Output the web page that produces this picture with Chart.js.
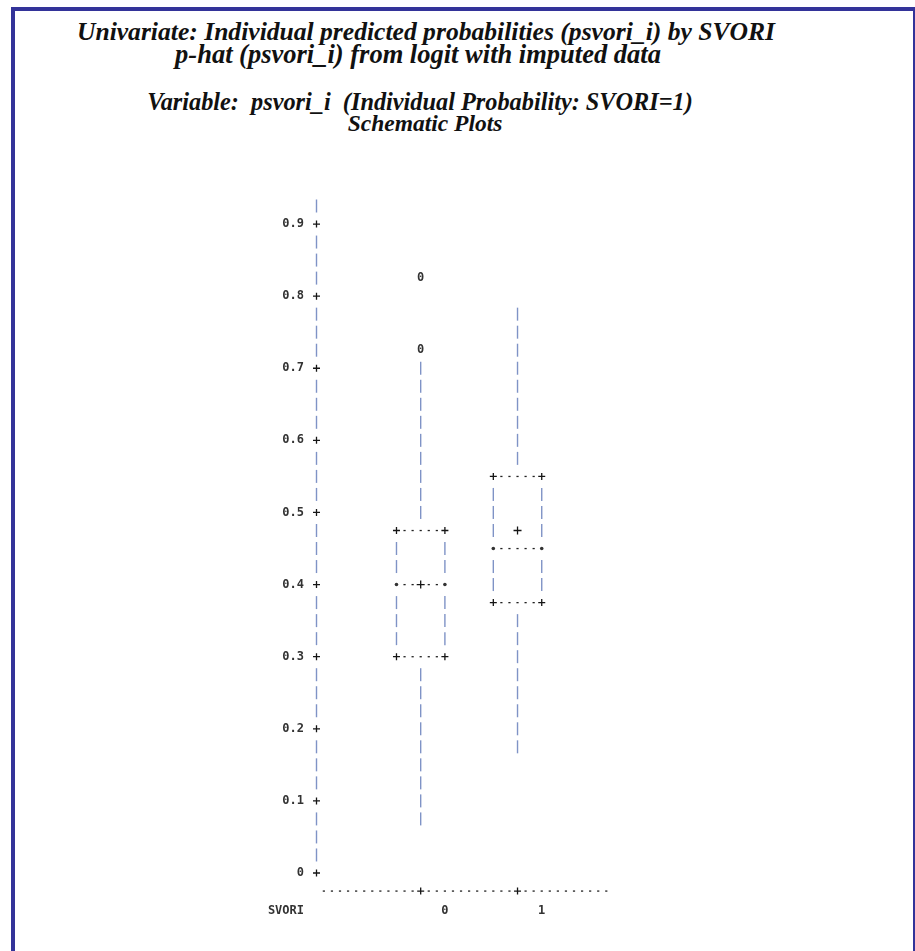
<!DOCTYPE html>
<html lang="en">
<head>
<meta charset="UTF-8">
<title>Schematic Plots</title>
<script src="https://cdn.jsdelivr.net/npm/chart.js"></script>
<style>
  body { margin: 0; width: 915px; height: 951px; overflow: hidden; position: relative; background: #fff; }
  .frame { position: absolute; left: 11px; top: 7px; width: 898px; height: 1000px; border: 4px solid #333399; }
  .t { position: absolute; left: 0; width: 846px; text-align: center; white-space: pre; line-height: 1;
       font-family: "Liberation Serif", serif; font-weight: bold; font-style: italic; color: #111; }
  #chart { position: absolute; left: 0; top: 0; }
</style>
</head>
<body>
<div class="frame"></div>
<div class="t" style="top:19px; left:3px; font-size:25.6px">Univariate: Individual predicted probabilities (psvori_i) by SVORI</div>
<div class="t" style="top:41px; left:-5px; font-size:26.5px">p-hat (psvori_i) from logit with imputed data</div>
<div class="t" style="top:90px; left:-3px; font-size:24.3px">Variable:  psvori_i  (Individual Probability: SVORI=1)</div>
<div class="t" style="top:111.5px; left:2px; font-size:23.5px">Schematic Plots</div>
<canvas id="chart" width="915" height="951"></canvas>

<script>
// data (line printer rows are 0.025 apart)
const categories = ['0', '1'];
const catPos = [0, 1];
const q1 = [0.300, 0.375];
const median = [0.400, 0.450];
const q3 = [0.475, 0.550];
const mean = [0.400, 0.475];
const whiskLo = [0.075, 0.175];
const whiskHi = [0.700, 0.775];
const outlierCat = [0, 0];
const outlierVal = [0.725, 0.825];
const yTicks = [0, 0.1, 0.2, 0.3, 0.4, 0.5, 0.6, 0.7, 0.8, 0.9];
const yTickLabels = ['0', '0.1', '0.2', '0.3', '0.4', '0.5', '0.6', '0.7', '0.8', '0.9'];
const xTitle = 'SVORI';

const rowStep = 0.025;
const boxHalf = 0.25;
const monoFont = 'bold 12px "DejaVu Sans Mono", monospace';
const pipeColor = '#7f93c6';
const inkColor = '#151515';

function plus(ctx, x, y) {
    ctx.strokeStyle = inkColor;
    ctx.lineWidth = 1.3;
    ctx.beginPath();
    ctx.moveTo(x - 3.5, y); ctx.lineTo(x + 3.5, y);
    ctx.moveTo(x, y - 3.5); ctx.lineTo(x, y + 3.5);
    ctx.stroke();
}
function pipe(ctx, x, y) {
    ctx.strokeStyle = pipeColor;
    ctx.lineWidth = 1.4;
    ctx.beginPath();
    ctx.moveTo(x, y - 6.5); ctx.lineTo(x, y + 6.5);
    ctx.stroke();
}
function star(ctx, x, y) {
    ctx.fillStyle = '#333';
    ctx.beginPath();
    ctx.arc(x, y, 1.8, 0, Math.PI * 2);
    ctx.fill();
}
function dashes(ctx, x0, x1, y, n, skip) {
    ctx.fillStyle = '#222';
    for (let k = 1; k <= n; k++) {
        if (k === skip) continue;
        const x = x0 + (x1 - x0) * k / (n + 1);
        ctx.fillRect(x - 1.1, y - 0.6, 2.2, 1.3);
    }
}
const row = v => Math.round(v / rowStep);

const schematic = {
    id: 'schematic',
    afterDatasetsDraw(chart) {
        const ctx = chart.ctx;
        const xs = chart.scales.x, ys = chart.scales.y;
        const area = chart.chartArea;
        const py = r => ys.getPixelForValue(r * rowStep);
        ctx.save();

        // vertical axis: | on each row, + at each tick
        const ax = area.left;
        for (let r = 0; r <= row(ys.max); r++) {
            if (r % 4 === 0) plus(ctx, ax, py(r)); else pipe(ctx, ax, py(r));
        }

        // boxes
        catPos.forEach((c, i) => {
            const cx = xs.getPixelForValue(c);
            const lx = xs.getPixelForValue(c - boxHalf);
            const rx = xs.getPixelForValue(c + boxHalf);
            const rq1 = row(q1[i]), rq3 = row(q3[i]), rmed = row(median[i]);
            for (let r = rq3 + 1; r <= row(whiskHi[i]); r++) pipe(ctx, cx, py(r));
            for (let r = row(whiskLo[i]); r < rq1; r++) pipe(ctx, cx, py(r));
            for (let r = rq1 + 1; r < rq3; r++) {
                if (r === rmed) continue;
                pipe(ctx, lx, py(r)); pipe(ctx, rx, py(r));
            }
            [rq1, rq3].forEach(r => {
                plus(ctx, lx, py(r)); plus(ctx, rx, py(r));
                dashes(ctx, lx, rx, py(r), 5, 0);
            });
            star(ctx, lx, py(rmed)); star(ctx, rx, py(rmed));
            dashes(ctx, lx, rx, py(rmed), 5, row(mean[i]) === rmed ? 3 : 0);
        });

        // outliers drawn as "0" at the library's point positions
        ctx.font = monoFont;
        ctx.fillStyle = '#333';
        ctx.textAlign = 'center';
        ctx.textBaseline = 'middle';
        chart.getDatasetMeta(1).data.forEach(pt => ctx.fillText('0', pt.x, pt.y));

        // horizontal axis: -----+-----+----- one row below zero
        const yAx = py(-1);
        const step = (xs.getPixelForValue(catPos[1]) - xs.getPixelForValue(catPos[0])) / 12;
        const x0 = xs.getPixelForValue(catPos[0]);
        const xl = xs.getPixelForValue(catPos[catPos.length - 1]);
        dashes(ctx, x0 - 13 * step, x0, yAx, 12, 0);
        for (let i = 0; i < catPos.length - 1; i++) {
            dashes(ctx, xs.getPixelForValue(catPos[i]), xs.getPixelForValue(catPos[i + 1]), yAx, 11, 0);
        }
        dashes(ctx, xl, xl + 12 * step, yAx, 11, 0);
        catPos.forEach(c => plus(ctx, xs.getPixelForValue(c), yAx));

        // category labels and axis name
        ctx.fillStyle = '#333';
        const yLab = py(-2) + 2;
        categories.forEach((lab, i) => ctx.fillText(lab, xs.getPixelForValue(catPos[i]) + 3 * step, yLab));
        ctx.textAlign = 'right';
        ctx.fillText(xTitle, area.left - 12.5, yLab);
        ctx.restore();
    }
};

new Chart(document.getElementById('chart'), {
    type: 'scatter',
    data: {
        datasets: [
            {
                label: 'mean',
                data: catPos.map((c, i) => ({ x: c, y: mean[i] })),
                pointStyle: 'cross',
                pointRadius: 4,
                borderColor: inkColor,
                borderWidth: 1.3
            },
            {
                label: 'outliers',
                data: outlierCat.map((c, i) => ({ x: c, y: outlierVal[i] })),
                pointRadius: 0
            }
        ]
    },
    options: {
        responsive: false,
        animation: false,
        events: [],
        layout: { padding: { left: 250, top: 206, right: 305, bottom: 78 } },
        plugins: { legend: { display: false }, tooltip: { enabled: false } },
        scales: {
            x: { type: 'linear', display: false, min: -1.076, max: 1.955 },
            y: {
                type: 'linear',
                min: 0,
                max: 0.925,
                grid: { display: false, drawTicks: false },
                border: { display: false },
                afterBuildTicks: s => { s.ticks = yTicks.map(v => ({ value: v })); },
                afterFit: s => { s.width = 66.5; s.paddingTop = 0; s.paddingBottom = 0; },
                ticks: {
                    padding: 12.5,
                    color: '#333',
                    font: { family: '"DejaVu Sans Mono", monospace', size: 12, weight: 'bold' },
                    callback: (v, i) => yTickLabels[i]
                }
            }
        }
    },
    plugins: [schematic]
});
</script>
</body>
</html>
